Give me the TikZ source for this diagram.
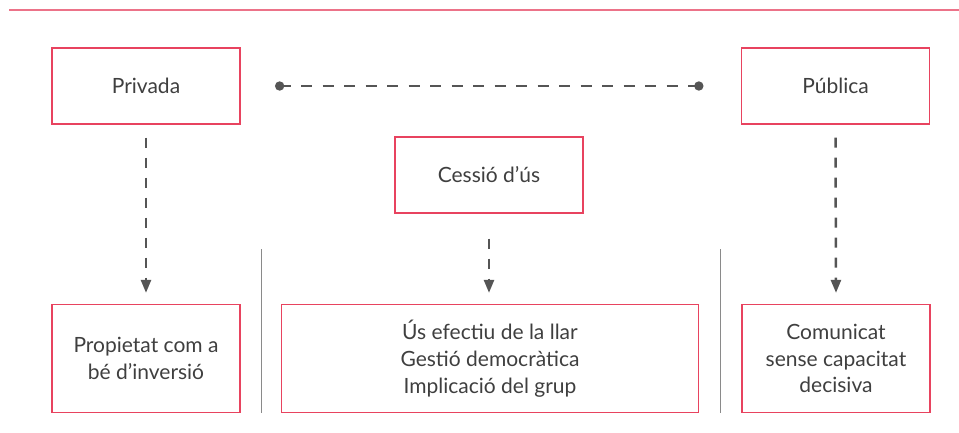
\documentclass[tikz,border=0pt]{standalone}
\usepackage{fontspec}
\setmainfont{Lato}
\usetikzlibrary{arrows.meta,positioning,calc}
\definecolor{rosered}{HTML}{E8435F}
\definecolor{rosetop}{HTML}{EC7389}
\definecolor{inkgray}{HTML}{3F3F3F}
\definecolor{dashgray}{HTML}{555555}
\definecolor{rulegray}{HTML}{8A8A8A}

\begin{document}
\begin{tikzpicture}[
    x=1pt, y=-1pt,
    box/.style={draw=rosered, line width=1.3pt, minimum width=188pt, align=center, text=inkgray, font=\fontsize{21}{26.7}\selectfont, inner sep=0pt},
    darrow/.style={-{Triangle[length=13pt, width=10pt]}, line width=2.5pt, color=dashgray, dash pattern=on 10pt off 10pt},
    dline/.style={line width=2.7pt, color=dashgray, dash pattern=on 11pt off 10.5pt},
    sepline/.style={line width=1.6pt, color=rulegray}
]
\useasboundingbox (0,0) rectangle (959,432);

\draw[rosetop, line width=2.4pt] (9,10) -- (959,10);

\node[box, minimum height=76pt] (privada) at (146,86) {Privada};
\node[box, minimum height=76pt] (publica) at (835.5,86) {Pública};
\node[box, minimum height=76pt] (cessio) at (489,175) {Cessió d’ús};

\node[box, minimum height=108pt] (propietat) at (146,358.5) {Propietat com a\\ bé d’inversió};
\node[box, minimum height=108pt, minimum width=417pt] (us) at (490,358.5) {Ús efectiu de la llar\\ Gestió democràtica\\ Implicació del grup};
\node[box, minimum height=108pt] (comunicat) at (836,358.5) {Comunicat\\ sense capacitat\\ decisiva};

\coordinate (sepa) at (261.5,249);
\coordinate (sepb) at (720.5,249);
\draw[sepline] (sepa) -- (sepa |- us.south);
\draw[sepline] (sepb) -- (sepb |- us.south);

\draw[dline] ([xshift=39pt]privada.east) -- ([xshift=-42pt]publica.west);
\fill[dashgray] ([xshift=39pt]privada.east) circle (4.7pt);
\fill[dashgray] ([xshift=-42pt]publica.west) circle (4.7pt);

\draw[darrow] ([yshift=-13pt]privada.south) -- ([yshift=11pt]propietat.north);
\draw[darrow] ([yshift=-25pt]cessio.south) -- ([yshift=11pt, xshift=-1pt]us.north);
\draw[darrow] ([yshift=-13pt]publica.south) -- ([yshift=11pt]comunicat.north);

\end{tikzpicture}
\end{document}
